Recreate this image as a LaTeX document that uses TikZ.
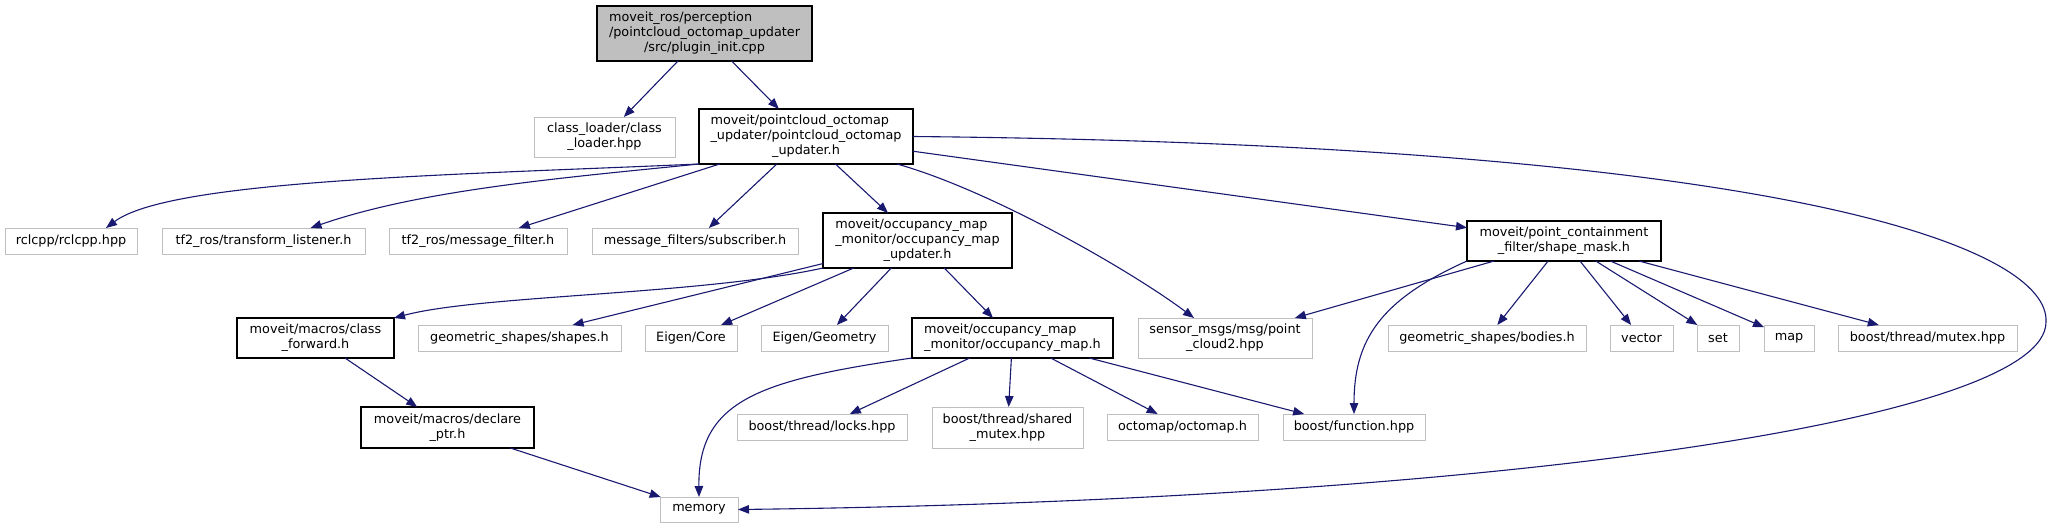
\documentclass[tikz,border=0pt]{standalone}
\usepackage{fontspec}
\setmainfont{DejaVu Sans}
\usetikzlibrary{arrows.meta}
\definecolor{edgecol}{HTML}{191970}
\definecolor{gbord}{HTML}{BFBFBF}
\definecolor{rootfill}{HTML}{BFBFBF}
\newcommand{\twol}[2]{\begin{tabular}{@{}l@{}}#1\\\multicolumn{1}{@{}c@{}}{#2}\end{tabular}}
\newcommand{\threel}[3]{\begin{tabular}{@{}l@{}}#1\\#2\\\multicolumn{1}{@{}c@{}}{#3}\end{tabular}}
\begin{document}
\begin{tikzpicture}[x=1pt,y=-1pt,
  every node/.style={inner sep=0pt, outer sep=0pt, font=\fontsize{12.8}{15}\selectfont, align=center},
  ext/.style={draw=gbord, line width=1pt, fill=white},
  doc/.style={draw=black, line width=1.3pt, fill=white},
  rootbox/.style={draw=black, line width=1.3pt, fill=rootfill},
  dep/.style={draw=edgecol, line width=1.1pt, -{Triangle[length=11pt,width=8.5pt]}, fill=none},
]
\useasboundingbox (0,0) rectangle (2053,528);
% nodes
\node[rootbox, minimum width=215pt, minimum height=55pt] (root) at (704.5,33.5)
  {\threel{moveit\_ros/perception}{/pointcloud\_octomap\_updater}{/src/plugin\_init.cpp}};
\node[ext, minimum width=141pt, minimum height=40pt] (cl) at (604.5,137)
  {\twol{class\_loader/class}{\_loader.hpp}};
\node[doc, minimum width=214pt, minimum height=55pt] (pou) at (806,136.5)
  {\threel{moveit/pointcloud\_octomap}{\_updater/pointcloud\_octomap}{\_updater.h}};
\node[ext, minimum width=132pt, minimum height=26pt] (rcl) at (71,241) {rclcpp/rclcpp.hpp};
\node[ext, minimum width=203pt, minimum height=26pt] (tfl) at (263.5,241) {tf2\_ros/transform\_listener.h};
\node[ext, minimum width=178pt, minimum height=26pt] (tfm) at (478,241) {tf2\_ros/message\_filter.h};
\node[ext, minimum width=206pt, minimum height=26pt] (sub) at (695,241) {message\_filters/subscriber.h};
\node[doc, minimum width=189pt, minimum height=55pt] (omu) at (917.5,240.5)
  {\threel{moveit/occupancy\_map}{\_monitor/occupancy\_map}{\_updater.h}};
\node[doc, minimum width=194pt, minimum height=40pt] (sm) at (1564,241)
  {\twol{moveit/point\_containment}{\_filter/shape\_mask.h}};
\node[doc, minimum width=157pt, minimum height=40pt] (cf) at (315.5,338)
  {\twol{moveit/macros/class}{\_forward.h}};
\node[ext, minimum width=203pt, minimum height=26pt] (gss) at (519.5,338) {geometric\_shapes/shapes.h};
\node[ext, minimum width=92pt, minimum height=26pt] (ec) at (691,338) {Eigen/Core};
\node[ext, minimum width=127pt, minimum height=26pt] (eg) at (824.5,338) {Eigen/Geometry};
\node[doc, minimum width=201pt, minimum height=40pt] (om) at (1012.5,338)
  {\twol{moveit/occupancy\_map}{\_monitor/occupancy\_map.h}};
\node[ext, minimum width=174pt, minimum height=40pt] (pc2) at (1225,338)
  {\twol{sensor\_msgs/msg/point}{\_cloud2.hpp}};
\node[ext, minimum width=198pt, minimum height=26pt] (gsb) at (1487,338) {geometric\_shapes/bodies.h};
\node[ext, minimum width=63pt, minimum height=26pt] (vec) at (1641.5,338) {vector};
\node[ext, minimum width=42pt, minimum height=26pt] (set) at (1718,338) {set};
\node[ext, minimum width=50pt, minimum height=26pt] (map) at (1789,338) {map};
\node[ext, minimum width=179pt, minimum height=26pt] (mtx) at (1927.5,338) {boost/thread/mutex.hpp};
\node[doc, minimum width=173pt, minimum height=41pt] (dp) at (447.5,427.5)
  {\twol{moveit/macros/declare}{\_ptr.h}};
\node[ext, minimum width=170pt, minimum height=26pt] (lk) at (822,427) {boost/thread/locks.hpp};
\node[ext, minimum width=151pt, minimum height=41pt] (shm) at (1007.5,427.5)
  {\twol{boost/thread/shared}{\_mutex.hpp}};
\node[ext, minimum width=151pt, minimum height=26pt] (oct) at (1182.5,427) {octomap/octomap.h};
\node[ext, minimum width=142pt, minimum height=26pt] (fn) at (1354,427) {boost/function.hpp};
\node[ext, minimum width=78pt, minimum height=25pt] (mem) at (699,509.5) {memory};
% edges
\draw[dep] (root) -- (cl);
\draw[dep] (root) -- (pou);
\draw[dep] (pou.south west) .. controls (450,175) and (170,180) .. ([xshift=35pt]rcl.north);
\draw[dep] (pou.south west) .. controls (560,178) and (420,190) .. ([xshift=47pt]tfl.north);
\draw[dep] (pou) -- (tfm);
\draw[dep] (pou) -- (sub);
\draw[dep] (pou) -- (omu);
\draw[dep] ([xshift=-16pt]pou.south east) .. controls (990,190) and (1130,270) .. ([xshift=56pt]pc2.north west);
\draw[dep] (pou) -- (sm);
\draw[dep] (pou.east) .. controls (1800,145) and (2050,250) .. (2046,322)
  .. controls (2046,420) and (1500,500) .. (mem.east);
\draw[dep] (omu.south west) .. controls (700,295) and (480,295) .. (cf.north east);
\draw[dep] (omu) -- (gss);
\draw[dep] (omu) -- (ec);
\draw[dep] (omu) -- (eg);
\draw[dep] (omu) -- (om);
\draw[dep] (cf) -- (dp);
\draw[dep] (dp) -- (mem);
\draw[dep] (om.south west) .. controls (760,380) and (698,400) .. (mem.north);
\draw[dep] (om) -- (lk);
\draw[dep] (om) -- (shm);
\draw[dep] (om) -- (oct);
\draw[dep] (om) -- (fn);
\draw[dep] (sm) -- (pc2);
\draw[dep] (sm.south west) .. controls (1380,300) and (1354,340) .. (fn.north);
\draw[dep] (sm) -- (gsb);
\draw[dep] (sm) -- (vec);
\draw[dep] (sm) -- (set);
\draw[dep] (sm) -- (map);
\draw[dep] (sm) -- (mtx);
\end{tikzpicture}
\end{document}
